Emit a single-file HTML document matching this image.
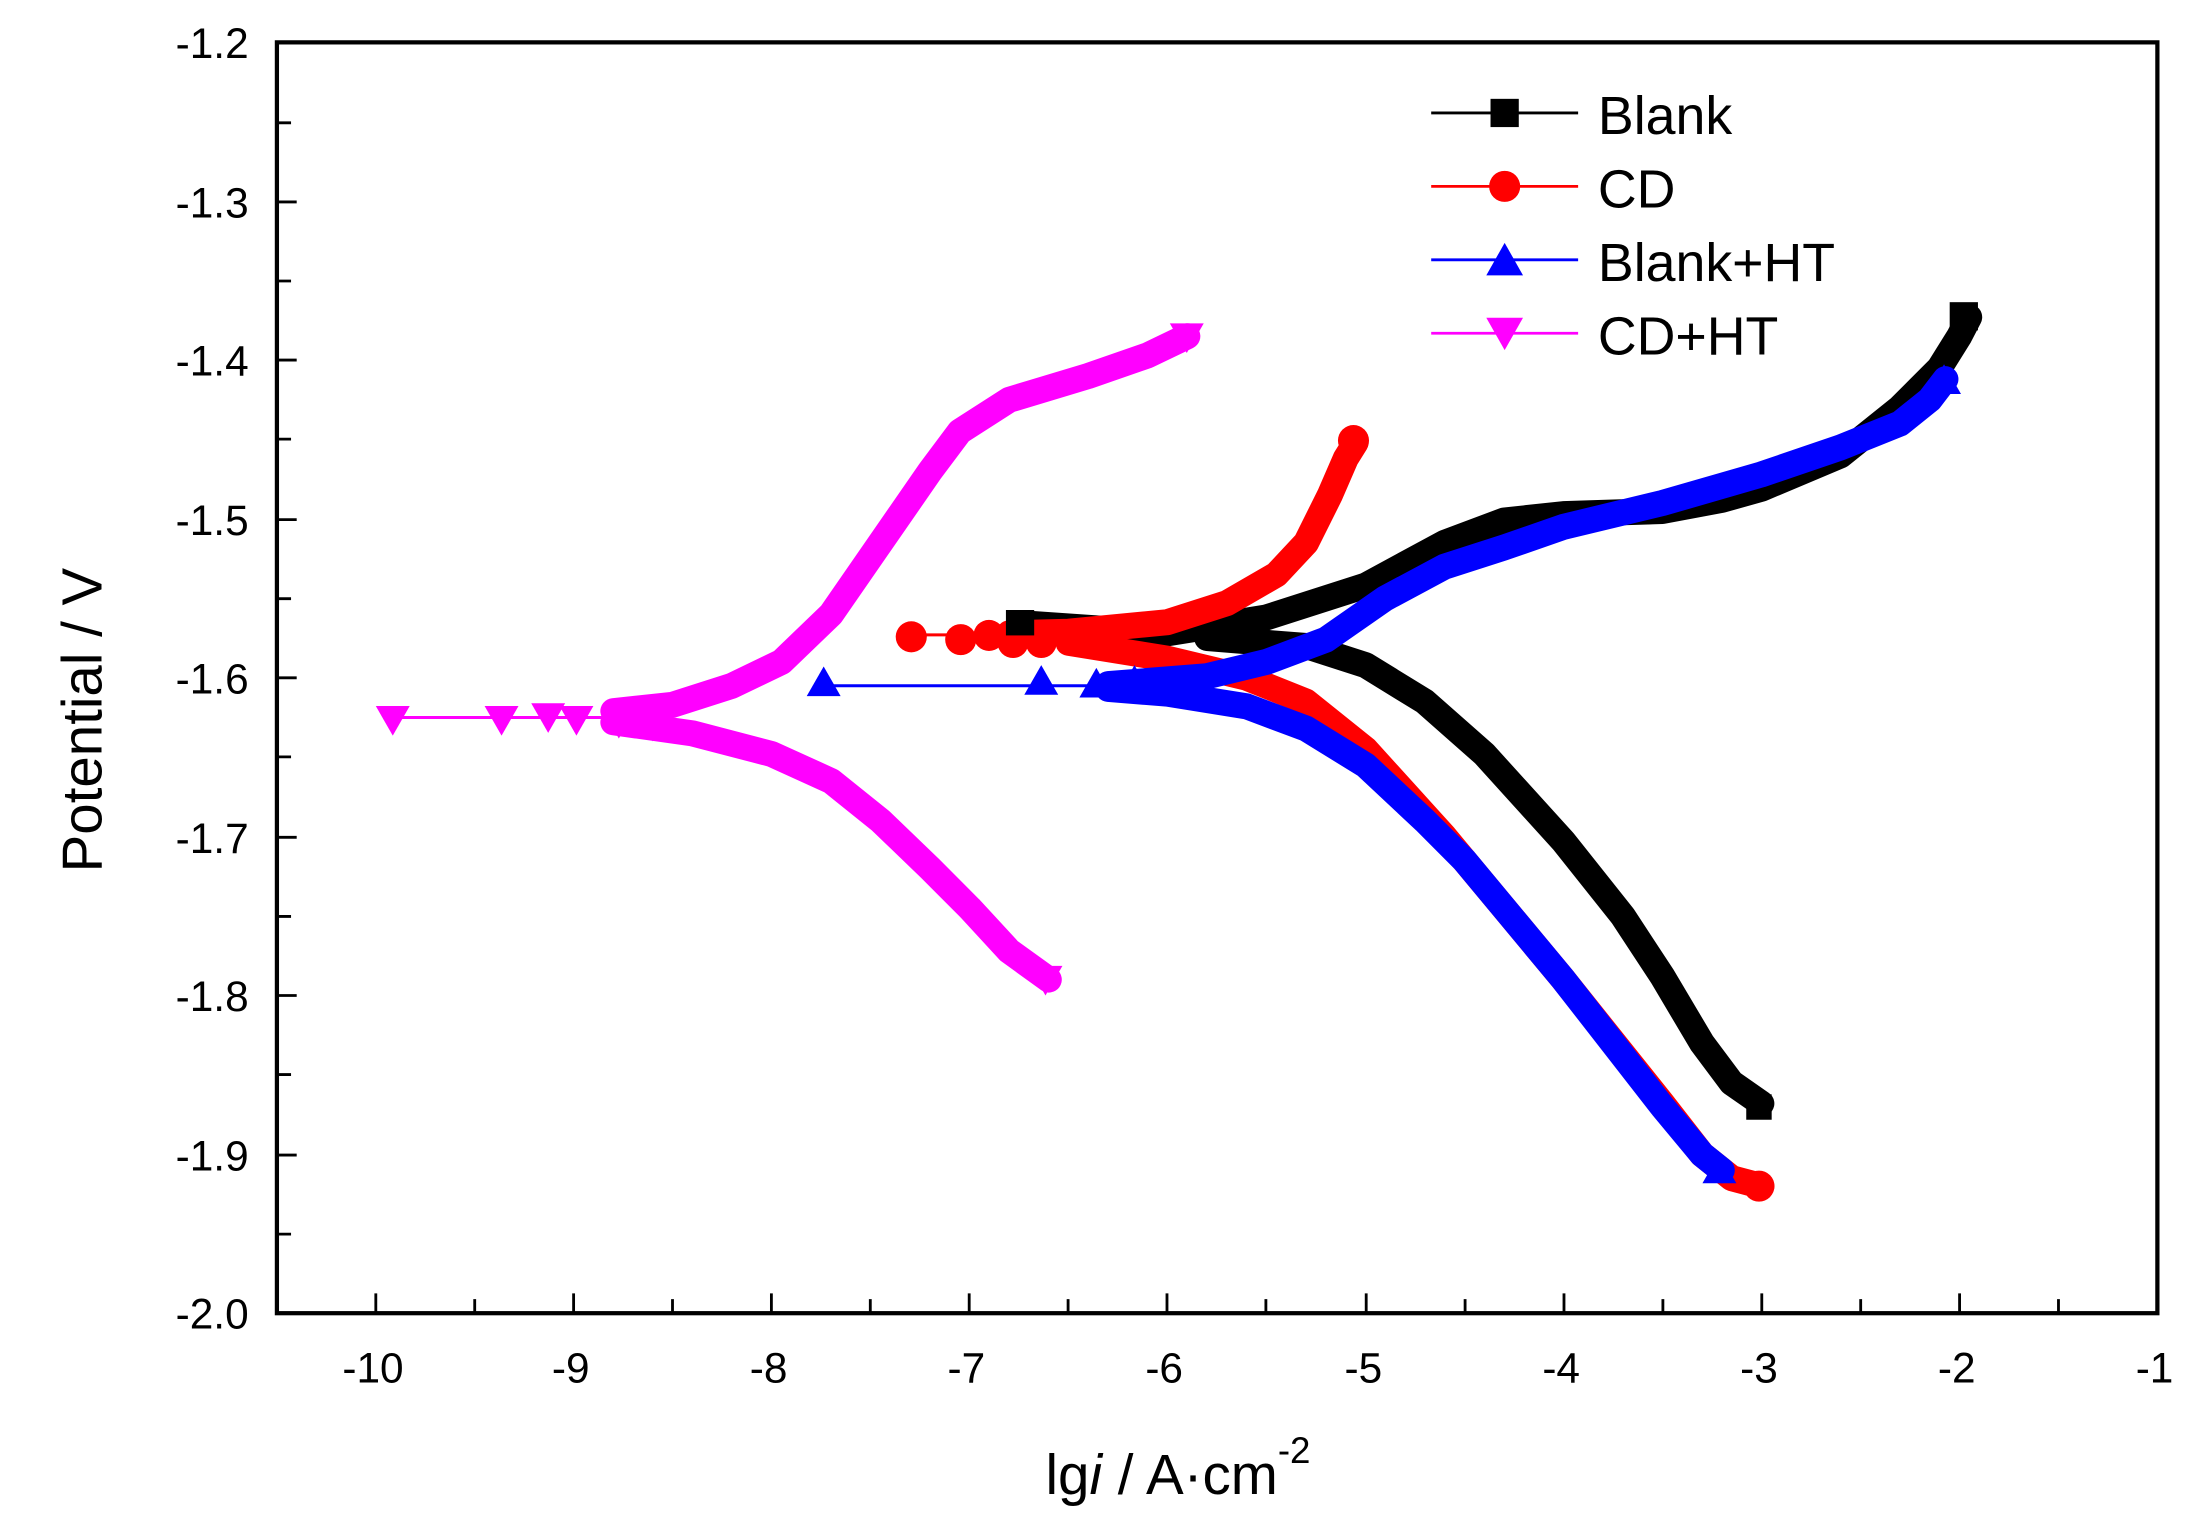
<!DOCTYPE html><html><head><style>body{margin:0;background:#fff}svg{display:block}text{font-family:"Liberation Sans",Arial,sans-serif}</style></head><body>
<svg width="2204" height="1525" viewBox="0 0 1560 1080" preserveAspectRatio="none" xmlns="http://www.w3.org/2000/svg">
<rect width="1560" height="1080" fill="#fff"/>
<g stroke-linecap="round" stroke-linejoin="round" fill="none">
<g transform="matrix(140.1 0 0 -1125 1667 -1320)">
<polyline vector-effect="non-scaling-stroke" stroke="#000" stroke-width="26" points="-6.7,-1.566 -6,-1.572 -5.5,-1.562 -5,-1.542 -4.6,-1.515 -4.3,-1.501 -4,-1.497 -3.5,-1.495 -3.2,-1.488 -3,-1.481 -2.6,-1.46 -2.3,-1.43 -2.1,-1.405 -2,-1.385 -1.95,-1.373"/>
<polyline vector-effect="non-scaling-stroke" stroke="#000" stroke-width="26" points="-5.8,-1.575 -5.3,-1.58 -5,-1.592 -4.7,-1.615 -4.4,-1.648 -4,-1.703 -3.7,-1.75 -3.5,-1.788 -3.3,-1.83 -3.15,-1.855 -3,-1.868"/>
<polyline vector-effect="non-scaling-stroke" stroke="#f00" stroke-width="3" points="-7.3,-1.573 -6.5,-1.573"/>
<polyline vector-effect="non-scaling-stroke" stroke="#f00" stroke-width="26" points="-6.8,-1.572 -6.5,-1.571 -6,-1.565 -5.7,-1.553 -5.45,-1.535 -5.3,-1.515 -5.18,-1.485 -5.1,-1.462 -5.05,-1.452"/>
<polyline vector-effect="non-scaling-stroke" stroke="#f00" stroke-width="26" points="-6.5,-1.578 -6,-1.588 -5.6,-1.6 -5.3,-1.615 -5,-1.645 -4.6,-1.7 -4,-1.79 -3.5,-1.868 -3.3,-1.9 -3.15,-1.915 -3,-1.92"/>
<polyline vector-effect="non-scaling-stroke" stroke="#00f" stroke-width="3" points="-7.75,-1.605 -6.3,-1.605"/>
<polyline vector-effect="non-scaling-stroke" stroke="#00f" stroke-width="26" points="-6.3,-1.604 -5.8,-1.599 -5.5,-1.59 -5.2,-1.576 -4.9,-1.55 -4.6,-1.53 -4.3,-1.518 -4,-1.505 -3.5,-1.49 -3,-1.472 -2.6,-1.455 -2.3,-1.44 -2.15,-1.425 -2.07,-1.412"/>
<polyline vector-effect="non-scaling-stroke" stroke="#00f" stroke-width="26" points="-6.3,-1.607 -6,-1.61 -5.6,-1.618 -5.3,-1.632 -5,-1.655 -4.7,-1.69 -4.5,-1.715 -4,-1.79 -3.5,-1.87 -3.3,-1.9 -3.2,-1.91"/>
<polyline vector-effect="non-scaling-stroke" stroke="#f0f" stroke-width="3" points="-9.9,-1.625 -8.7,-1.625"/>
<polyline vector-effect="non-scaling-stroke" stroke="#f0f" stroke-width="26" points="-8.8,-1.621 -8.5,-1.617 -8.2,-1.605 -7.95,-1.59 -7.7,-1.56 -7.45,-1.515 -7.2,-1.47 -7.05,-1.445 -6.8,-1.425 -6.4,-1.41 -6.1,-1.397 -5.9,-1.385"/>
<polyline vector-effect="non-scaling-stroke" stroke="#f0f" stroke-width="26" points="-8.8,-1.628 -8.4,-1.635 -8,-1.648 -7.7,-1.665 -7.45,-1.69 -7.2,-1.72 -7,-1.745 -6.8,-1.772 -6.6,-1.79"/>
</g>
</g>
<g fill="#f00"><circle cx="645" cy="451" r="11"/><circle cx="680" cy="453" r="11"/><circle cx="700" cy="450" r="11"/><circle cx="717" cy="455" r="11"/><circle cx="737" cy="455" r="11"/><circle cx="1245" cy="840" r="11"/><circle cx="958" cy="312" r="11"/></g>
<g fill="#00f"><path d="M583,472 L595,493 L571,493Z"/><path d="M737,471 L749,492 L725,492Z"/><path d="M776,473 L788,494 L764,494Z"/><path d="M803,471 L815,492 L791,492Z"/><path d="M1376,258 L1388,279 L1364,279Z"/><path d="M1217,817 L1229,838 L1205,838Z"/></g>
<g fill="#f0f"><path d="M278,521 L290,500 L266,500Z"/><path d="M355,521 L367,500 L343,500Z"/><path d="M388,519 L400,498 L376,498Z"/><path d="M408,521 L420,500 L396,500Z"/><path d="M438,523 L450,502 L426,502Z"/><path d="M462,525 L474,504 L450,504Z"/><path d="M740,705 L752,684 L728,684Z"/><path d="M840,250 L852,229 L828,229Z"/></g>
<g fill="#000"><rect x="712" y="432" width="20" height="18"/><rect x="1380" y="214" width="20" height="20"/><rect x="1236" y="775" width="18" height="18"/></g>
<rect x="196" y="30" width="1331" height="900" fill="none" stroke="#000" stroke-width="3"/>
<g stroke="#000" stroke-width="2">
<path d="M196,87h10M196,143h14M196,199h10M196,255h14M196,311h10M196,368h14M196,424h10M196,480h14M196,536h10M196,593h14M196,649h10M196,705h14M196,761h10M196,818h14M196,874h10"/>
<path d="M266,930v-14M336,930v-10M406,930v-14M476,930v-10M546,930v-14M616,930v-10M686,930v-14M756,930v-10M826,930v-14M896,930v-10M967,930v-14M1037,930v-10M1107,930v-14M1177,930v-10M1247,930v-14M1317,930v-10M1387,930v-14M1457,930v-10"/>
</g>
<g font-size="30" text-anchor="end">
<text x="176" y="41">-1.2</text><text x="176" y="154">-1.3</text><text x="176" y="266">-1.4</text><text x="176" y="379">-1.5</text><text x="176" y="491">-1.6</text><text x="176" y="604">-1.7</text><text x="176" y="716">-1.8</text><text x="176" y="829">-1.9</text><text x="176" y="941">-2.0</text>
</g>
<g font-size="30" text-anchor="middle">
<text x="264" y="979">-10</text><text x="404" y="979">-9</text><text x="544" y="979">-8</text><text x="684" y="979">-7</text><text x="824" y="979">-6</text><text x="965" y="979">-5</text><text x="1105" y="979">-4</text><text x="1245" y="979">-3</text><text x="1385" y="979">-2</text><text x="1525" y="979">-1</text>
</g>
<text x="0" y="0" font-size="40" text-anchor="middle" transform="translate(72,510) rotate(-90)">Potential / V</text>
<text x="740" y="1058" font-size="40">lg<tspan font-style="italic">i</tspan>  / A·cm<tspan font-size="26" dy="-22">-2</tspan></text>
<g stroke-width="2"><line x1="1013" y1="80" x2="1117" y2="80" stroke="#000"/><line x1="1013" y1="132" x2="1117" y2="132" stroke="#f00"/><line x1="1013" y1="184" x2="1117" y2="184" stroke="#00f"/><line x1="1013" y1="236" x2="1117" y2="236" stroke="#f0f"/></g>
<rect x="1055" y="70" width="20" height="20" fill="#000"/>
<circle cx="1065" cy="132" r="11" fill="#f00"/>
<path d="M1065,172 L1078,195 L1052,195Z" fill="#00f"/>
<path d="M1065,248 L1078,225 L1052,225Z" fill="#f0f"/>
<g font-size="38"><text x="1131" y="95">Blank</text><text x="1131" y="147">CD</text><text x="1131" y="199">Blank+HT</text><text x="1131" y="251">CD+HT</text></g>
</svg></body></html>
